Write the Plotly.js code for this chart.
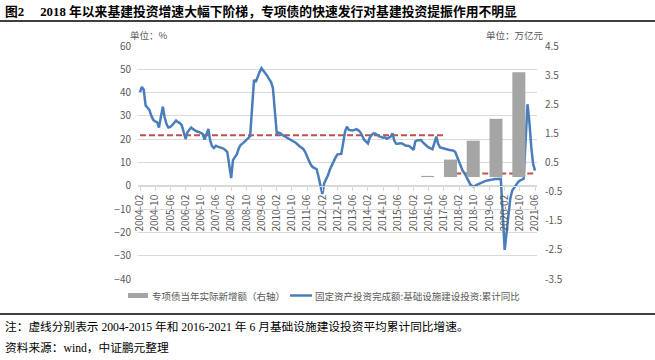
<!DOCTYPE html>
<html>
<head>
<meta charset="utf-8">
<script src="https://cdn.plot.ly/plotly-3.0.1.min.js"></script>
<style>
html,body{margin:0;padding:0;background:#fff;}
#chart{width:655px;height:360px;}
</style>
</head>
<body>
<div id="chart"></div>
<script>
// ---- Data ----
// Infrastructure investment, cumulative YoY (%), months Feb..Dec each year
const growthYears = [2004,2005,2006,2007,2008,2009,2010,2011,2012,2013,2014,2015,2016,2017,2018,2019,2020,2021];
const g2004 = [40.2, 42.4, 41.2, 34.5, 33.5, 32.5, 30.0, 28.3, 27.6, 27.3, 25.0];
const g2005 = [34.0, 29.5, 26.5, 25.0, 25.3, 26.0, 27.0, 28.0, 27.3, 26.9, 26.0];
const g2006 = [20.1, 23.0, 23.8, 25.0, 24.3, 23.7, 23.3, 23.1, 22.8, 22.3, 19.8];
const g2007 = [24.4, 19.5, 17.0, 16.2, 17.2, 16.8, 16.5, 16.3, 16.0, 15.3, 14.5];
const g2008 = [3.3, 11.0, 12.3, 13.5, 16.0, 17.5, 18.1, 18.8, 19.6, 20.5, 21.3];
const g2009 = [45.5, 44.5, 47.0, 48.8, 50.5, 49.5, 48.5, 47.2, 45.8, 44.5, 42.0];
const g2010 = [22.3, 22.8, 22.5, 21.8, 21.3, 20.8, 20.2, 19.7, 19.3, 18.9, 18.5];
const g2011 = [17.0, 16.6, 15.8, 14.6, 13.0, 10.8, 9.0, 8.0, 7.6, 7.2, 4.0];
const g2012 = [-3.5, 1.0, 2.5, 4.5, 7.0, 8.8, 11.0, 12.2, 13.5, 13.7, 13.7];
const g2013 = [23.5, 25.4, 24.0, 23.7, 23.7, 24.0, 24.3, 23.8, 23.0, 21.5, 19.8];
const g2014 = [18.2, 20.6, 21.8, 22.5, 22.4, 21.8, 21.2, 21.0, 20.6, 20.8, 20.2];
const g2015 = [21.1, 22.5, 19.2, 18.0, 18.0, 18.3, 18.2, 17.6, 17.2, 17.2, 16.9];
const g2016 = [15.4, 19.1, 19.5, 19.7, 19.6, 18.6, 17.7, 17.1, 16.5, 16.2, 15.7];
const g2017 = [21.1, 18.0, 16.5, 16.2, 16.0, 15.8, 15.6, 15.4, 15.4, 15.1, 14.5];
const g2018 = [10.5, 8.0, 6.3, 5.3, 3.5, 1.8, 0.5, -0.1, -0.3, 0.3, 0.7];
const g2019 = [1.3, 1.8, 2.1, 2.3, 2.5, 2.6, 2.7, 2.9, 2.9, 3.0, 3.0];
const g2020 = [-27.5, -19.5, -11.8, -5.5, -2.0, -0.8, 0.5, 1.5, 2.2, 2.6, 3.0];
const g2021 = [35.0, 28.0, 17.0, 9.5, 6.5];
const growthByYear = [g2004,g2005,g2006,g2007,g2008,g2009,g2010,g2011,g2012,g2013,g2014,g2015,g2016,g2017,g2018,g2019,g2020,g2021];

// Special bonds, new issuance in the year (trillion yuan, right axis)
const bondDates = ['2016-09-15','2017-09-15','2018-09-15','2019-09-15','2020-09-15'];
const bondValues = [0.04, 0.6, 1.25, 2.0, 3.6];

// Average growth reference lines (%)
const avg1Dates = ['2004-02-01','2017-06-01'];
const avg1Values = [21.7, 21.7];
const avg2Dates = ['2017-12-01','2021-06-01'];
const avg2Values = [5.3, 5.3];

// Tick labels
const xTickLabels = ['2004-02','2004-10','2005-06','2006-02','2006-10','2007-06','2008-02','2008-10','2009-06','2010-02','2010-10','2011-06','2012-02','2012-10','2013-06','2014-02','2014-10','2015-06','2016-02','2016-10','2017-06','2018-02','2018-10','2019-06','2020-02','2020-10','2021-06'];
const y2TickVals = [-3.5,-2.5,-1.5,-0.5,0.5,1.5,2.5,3.5,4.5];

// Texts
const titleText = '<b>图2　 2018 年以来基建投资增速大幅下阶梯，专项债的快速发行对基建投资提振作用不明显</b>';
const unitLeft = '单位：%';
const unitRight = '单位：万亿元';
const legendBar = '专项债当年实际新增额（右轴）';
const legendLine = '固定资产投资完成额:基础设施建设投资:累计同比';
const noteText = '注：虚线分别表示 2004-2015 年和 2016-2021 年 6 月基础设施建设投资平均累计同比增速。';
const sourceText = '资料来源：wind，中证鹏元整理';

// ---- Build series ----
const lineX = [], lineY = [];
growthYears.forEach((yr, k) => {
  growthByYear[k].forEach((v, i) => {
    const m = i + 2;
    lineX.push(yr + '-' + String(m).padStart(2, '0') + '-01');
    lineY.push(v);
  });
});

// ---- Layout helpers ----
const W = 655, H = 360, ML = 138, MR = 118, MT = 46, MB = 81;
const PW = W - ML - MR, PH = H - MT - MB;
const px = x => (x - ML) / PW;
const py = y => (H - MB - y) / PH;

const textColor = '#595959';
const sans = 'Noto Sans CJK SC, Noto Sans, sans-serif';
const serifMix = 'Liberation Serif, Noto Sans CJK SC, serif';

const traces = [
  {
    type: 'bar', x: bondDates, y: bondValues, yaxis: 'y2',
    width: 1.8e10, marker: {color: '#a5a5a5'}, showlegend: false, hoverinfo: 'skip'
  },
  {
    type: 'scatter', mode: 'lines', x: avg1Dates, y: avg1Values,
    line: {color: '#c0504d', width: 2, dash: '6px,3px'}, showlegend: false
  },
  {
    type: 'scatter', mode: 'lines', x: avg2Dates, y: avg2Values,
    line: {color: '#c0504d', width: 2, dash: '6px,3px'}, showlegend: false
  },
  {
    type: 'scatter', mode: 'lines', x: lineX, y: lineY,
    line: {color: '#4a7ebb', width: 2.5}, showlegend: false
  }
];

const layout = {
  width: W, height: H,
  margin: {l: ML, r: MR, t: MT, b: MB, pad: 0},
  paper_bgcolor: '#fff', plot_bgcolor: '#fff',
  showlegend: false,
  font: {family: sans, size: 10, color: textColor},
  xaxis: {
    type: 'date',
    range: ['2003-12-31', '2021-07-03'],
    tickmode: 'array',
    tickvals: xTickLabels.map(s => s + '-01'),
    ticktext: xTickLabels,
    tickangle: -90,
    tickfont: {family: sans, size: 10, color: textColor},
    showgrid: false, zeroline: false,
    showline: true, linecolor: '#d9d9d9', linewidth: 1,
    ticks: 'outside', ticklen: 4, tickcolor: '#d9d9d9',
    anchor: 'free', position: 0.4
  },
  yaxis: {
    range: [-40, 60], tick0: -40, dtick: 10,
    showgrid: true, gridcolor: '#d9d9d9', gridwidth: 1,
    zeroline: false, showline: false, ticks: '',
    tickfont: {family: sans, size: 10, color: textColor},
    ticklabelstandoff: 6
  },
  yaxis2: {
    overlaying: 'y', side: 'right',
    range: [-3.5, 4.5], tickmode: 'array', tickvals: y2TickVals,
    ticktext: y2TickVals.map(v => v.toFixed(1)),
    showgrid: false, zeroline: false, showline: false, ticks: '',
    tickfont: {family: sans, size: 10, color: textColor},
    ticklabelstandoff: 7
  },
  shapes: [
    {type: 'line', xref: 'paper', yref: 'paper', x0: px(0), x1: px(655), y0: py(21), y1: py(21), line: {color: '#000', width: 1.5}},
    {type: 'line', xref: 'paper', yref: 'paper', x0: px(0), x1: px(655), y0: py(314), y1: py(314), line: {color: '#000', width: 1.5}},
    {type: 'rect', xref: 'paper', yref: 'paper', x0: px(128), x1: px(148), y0: py(298), y1: py(293), fillcolor: '#a5a5a5', line: {width: 0}},
    {type: 'line', xref: 'paper', yref: 'paper', x0: px(290), x1: px(312), y0: py(295.5), y1: py(295.5), line: {color: '#4a7ebb', width: 2.5}}
  ],
  annotations: [
    {text: titleText, xref: 'paper', yref: 'paper', x: px(3), y: py(11), xanchor: 'left', yanchor: 'middle', showarrow: false, font: {family: serifMix, size: 12.8, color: '#000'}},
    {text: unitLeft, xref: 'paper', yref: 'paper', x: px(149), y: py(34.5), xanchor: 'center', yanchor: 'middle', showarrow: false, font: {family: sans, size: 9.5, color: textColor}},
    {text: unitRight, xref: 'paper', yref: 'paper', x: px(515), y: py(35), xanchor: 'center', yanchor: 'middle', showarrow: false, font: {family: sans, size: 9.5, color: textColor}},
    {text: legendBar, xref: 'paper', yref: 'paper', x: px(150), y: py(295.5), xanchor: 'left', yanchor: 'middle', showarrow: false, font: {family: sans, size: 9.5, color: textColor}},
    {text: legendLine, xref: 'paper', yref: 'paper', x: px(313), y: py(295.5), xanchor: 'left', yanchor: 'middle', showarrow: false, font: {family: sans, size: 9.5, color: textColor}},
    {text: noteText, xref: 'paper', yref: 'paper', x: px(3), y: py(327), xanchor: 'left', yanchor: 'middle', showarrow: false, font: {family: serifMix, size: 11.7, color: '#000'}},
    {text: sourceText, xref: 'paper', yref: 'paper', x: px(3), y: py(348), xanchor: 'left', yanchor: 'middle', showarrow: false, font: {family: serifMix, size: 11.7, color: '#000'}}
  ]
};

Plotly.newPlot('chart', traces, layout, {displayModeBar: false, staticPlot: true});
</script>
</body>
</html>
